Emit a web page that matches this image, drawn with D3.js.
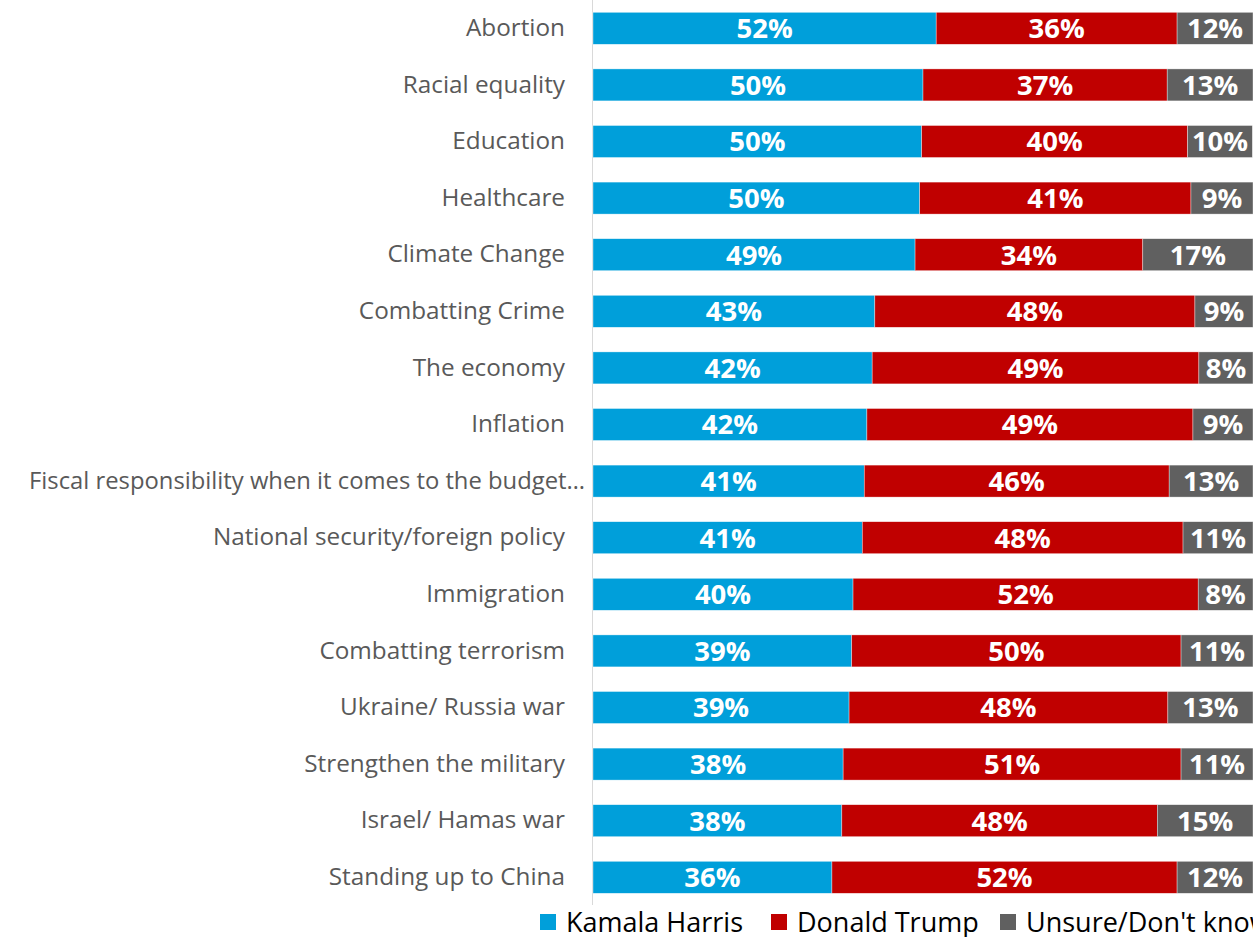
<!DOCTYPE html>
<html>
<head>
<meta charset="utf-8">
<script src="https://cdn.jsdelivr.net/npm/d3@7"></script>
<style>
  html, body { margin: 0; padding: 0; background: #fff; }
  svg { display: block; }
</style>
</head>
<body>
<div id="chart"></div>
<script>
var categories = [
    'Abortion', 'Racial equality', 'Education', 'Healthcare', 'Climate Change',
    'Combatting Crime', 'The economy', 'Inflation',
    'Fiscal responsibility when it comes to the budget\u2026',
    'National security/foreign policy', 'Immigration', 'Combatting terrorism',
    'Ukraine/ Russia war', 'Strengthen the military', 'Israel/ Hamas war',
    'Standing up to China'
];

// bar lengths
var harris = [52.0, 50.0, 49.8, 49.5, 48.8, 42.7, 42.3, 41.5, 41.1, 40.8, 39.4, 39.2, 38.8, 37.9, 37.7, 36.2];
var trump  = [36.5, 37.0, 40.3, 41.1, 34.5, 48.5, 49.5, 49.4, 46.2, 48.6, 52.3, 49.9, 48.3, 51.2, 47.8, 52.3];
var unsure = [11.5, 13.0,  9.8,  9.4, 16.7,  8.8,  8.2,  9.1, 12.7, 10.6,  8.3, 10.9, 12.9, 10.9, 14.5, 11.5];

// printed labels
var harrisLabels = [52, 50, 50, 50, 49, 43, 42, 42, 41, 41, 40, 39, 39, 38, 38, 36];
var trumpLabels  = [36, 37, 40, 41, 34, 48, 49, 49, 46, 48, 52, 50, 48, 51, 48, 52];
var unsureLabels = [12, 13, 10,  9, 17,  9,  8,  9, 13, 11,  8, 11, 13, 11, 15, 12];

var seriesNames = ['Kamala Harris', 'Donald Trump', "Unsure/Don't know"];
var colors = ['#009fda', '#c00000', '#606060'];

var width = 1253, height = 937;
var left = 593, right = 1253;

var rows = categories.map(function(c, i) {
    return {cat: c, vals: [harris[i], trump[i], unsure[i]],
            labels: [harrisLabels[i], trumpLabels[i], unsureLabels[i]]};
});

var x = d3.scaleLinear().domain([0, 100]).range([left, right]);
var y = d3.scaleBand().domain(categories).range([0, 905.6])
    .paddingInner(0.435).paddingOuter(0.2175);

var svg = d3.select('#chart').append('svg')
    .attr('width', width).attr('height', height);

// vertical category axis line
svg.append('line')
    .attr('x1', left - 0.5).attr('x2', left - 0.5)
    .attr('y1', 0).attr('y2', 905)
    .attr('stroke', '#d9d9d9').attr('stroke-width', 1);

var yAxis = svg.append('g')
    .attr('transform', 'translate(' + (left - 28) + ',0)')
    .call(d3.axisLeft(y).tickSize(0).tickPadding(0));
yAxis.select('.domain').remove();
yAxis.selectAll('text')
    .attr('font-family', 'Open Sans')
    .attr('font-size', 24.3)
    .attr('fill', '#595959');
// the truncated long label runs a bit past the others
yAxis.selectAll('text')
    .filter(function(d) { return d.indexOf('\u2026') >= 0; })
    .attr('x', 20)
    .attr('font-size', 23.8);

var row = svg.selectAll('g.row')
    .data(rows).enter()
    .append('g').attr('class', 'row')
    .attr('transform', function(d) { return 'translate(0,' + y(d.cat) + ')'; });

var segs = row.selectAll('g.seg')
    .data(function(d) {
        var acc = 0;
        return d.vals.map(function(v, k) {
            var s = {k: k, x0: acc, x1: acc + v, label: d.labels[k]};
            acc += v;
            return s;
        });
    })
    .enter().append('g').attr('class', 'seg');

segs.append('rect')
    .attr('x', function(d) { return x(d.x0); })
    .attr('width', function(d) { return x(d.x1) - x(d.x0); })
    .attr('height', y.bandwidth())
    .attr('fill', function(d) { return colors[d.k]; })
    .attr('stroke', '#ffffff').attr('stroke-width', 0.6).attr('stroke-opacity', 0.6);

segs.append('text')
    .attr('x', function(d) { return (x(d.x0) + x(d.x1)) / 2; })
    .attr('y', y.bandwidth() / 2)
    .attr('dy', '0.36em')
    .attr('text-anchor', 'middle')
    .attr('font-family', 'Open Sans')
    .attr('font-weight', 'bold')
    .attr('font-size', 27.5)
    .attr('fill', '#fff')
    .text(function(d) { return d.label + '%'; });

// legend
var legendX = [540, 771, 1000];
var legend = svg.selectAll('g.legend')
    .data(seriesNames).enter()
    .append('g').attr('class', 'legend')
    .attr('transform', function(d, i) { return 'translate(' + legendX[i] + ',914)'; });
legend.append('rect')
    .attr('width', 16).attr('height', 16)
    .attr('fill', function(d, i) { return colors[i]; });
legend.append('text')
    .attr('x', 26).attr('y', 8).attr('dy', '0.36em')
    .attr('font-family', 'Open Sans')
    .attr('font-size', 27)
    .attr('fill', '#000')
    .text(function(d) { return d; });
</script>
</body>
</html>
